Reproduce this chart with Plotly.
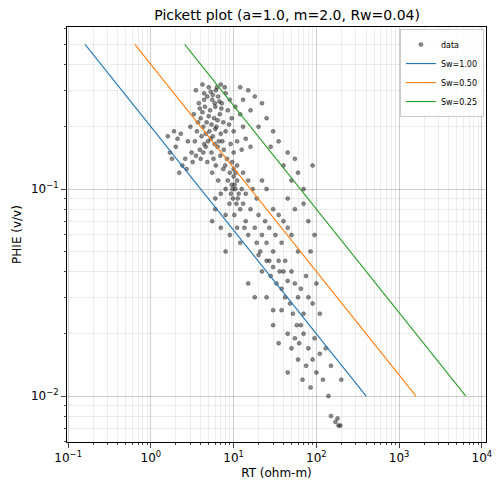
import plotly.graph_objects as go

# Pickett plot: RT vs PHIE, Archie lines for a=1, m=2, Rw=0.04
pts = [
    (3.5, 0.30), (4.2, 0.32), (5.0, 0.31), (6.1, 0.30), (7.0, 0.32), (4.8, 0.28), (5.5, 0.27), (6.5, 0.28),
    (8.0, 0.29), (3.8, 0.26), (4.5, 0.25), (5.2, 0.24), (6.0, 0.25), (7.2, 0.26), (9.0, 0.27), (3.3, 0.23),
    (4.0, 0.22), (4.7, 0.21), (5.8, 0.22), (6.8, 0.23), (8.5, 0.24), (10.5, 0.25), (3.0, 0.20), (3.6, 0.19),
    (4.3, 0.20), (5.1, 0.19), (6.2, 0.20), (7.5, 0.21), (9.5, 0.22), (12, 0.23), (2.8, 0.17), (3.4, 0.17),
    (4.1, 0.18), (4.9, 0.17), (5.6, 0.18), (6.6, 0.17), (8.0, 0.19), (10, 0.19), (13, 0.20), (3.1, 0.15),
    (3.9, 0.155), (4.6, 0.16), (5.4, 0.15), (6.4, 0.16), (7.6, 0.155), (9.2, 0.165), (11, 0.17), (14, 0.175),
    (2.6, 0.14), (3.2, 0.135), (4.0, 0.14), (4.8, 0.135), (5.7, 0.14), (6.9, 0.145), (8.3, 0.14), (10, 0.15),
    (12.5, 0.155), (16, 0.16), (4.4, 0.29), (5.3, 0.295), (6.3, 0.31), (7.8, 0.31), (5.9, 0.26), (7.1, 0.245),
    (4.2, 0.235), (5.0, 0.225), (6.4, 0.215), (3.7, 0.21), (4.6, 0.185), (5.3, 0.175), (7.0, 0.185), (8.8, 0.205),
    (1.6, 0.18), (1.9, 0.19), (2.1, 0.175), (2.3, 0.185), (1.7, 0.15), (2.0, 0.16), (2.4, 0.13), (2.2, 0.12),
    (2.7, 0.125), (1.8, 0.14), (12, 0.31), (15, 0.30), (18, 0.28), (13, 0.27), (22, 0.26), (16, 0.24),
    (25, 0.22), (20, 0.20), (30, 0.19), (28, 0.16), (35, 0.17), (45, 0.15), (40, 0.13), (55, 0.14),
    (60, 0.12), (90, 0.13), (70, 0.10), (50, 0.11), (9, 0.12), (10, 0.115), (11, 0.11), (9.5, 0.105),
    (10.5, 0.10), (11.5, 0.095), (9.8, 0.09), (10.8, 0.085), (12, 0.08), (10, 0.125), (11, 0.13), (9.3, 0.095),
    (12.5, 0.10), (8.5, 0.11), (10.2, 0.075), (5.5, 0.12), (6.5, 0.11), (7.5, 0.125), (8, 0.10), (7, 0.095),
    (6, 0.09), (13, 0.12), (15, 0.11), (17, 0.10), (14, 0.095), (19, 0.09), (22, 0.11), (25, 0.10),
    (6, 0.08), (7, 0.065), (8, 0.075), (5.5, 0.07), (13, 0.085), (16, 0.08), (20, 0.075), (24, 0.07),
    (30, 0.08), (35, 0.075), (14, 0.07), (18, 0.065), (22, 0.06), (27, 0.065), (32, 0.06), (40, 0.07),
    (45, 0.065), (15, 0.06), (19, 0.055), (25, 0.055), (30, 0.05), (38, 0.055), (50, 0.06), (60, 0.05),
    (12, 0.055), (11, 0.065), (9, 0.06), (8, 0.05), (45, 0.09), (55, 0.08), (70, 0.085), (80, 0.07),
    (95, 0.06), (85, 0.05), (20, 0.048), (25, 0.045), (30, 0.042), (35, 0.045), (40, 0.04), (28, 0.038),
    (22, 0.04), (33, 0.035), (38, 0.033), (45, 0.036), (50, 0.04), (55, 0.035), (42, 0.03), (48, 0.028),
    (60, 0.03), (65, 0.033), (75, 0.038), (80, 0.03), (90, 0.028), (52, 0.025), (58, 0.022), (70, 0.025),
    (100, 0.035), (110, 0.025), (18, 0.03), (15, 0.035), (25, 0.03), (30, 0.026), (45, 0.02), (55, 0.019),
    (62, 0.018), (70, 0.02), (80, 0.017), (95, 0.019), (60, 0.015), (75, 0.014), (90, 0.015), (110, 0.016),
    (130, 0.017), (100, 0.013), (120, 0.012), (150, 0.014), (45, 0.013), (85, 0.011), (140, 0.01), (30, 0.022),
    (35, 0.018), (200, 0.012), (150, 0.008), (170, 0.0075), (185, 0.0072), (195, 0.0072), (180, 0.0078),
    # extra density in the core
    (4.4, 0.27), (5.6, 0.285), (6.7, 0.265), (3.9, 0.245), (5.4, 0.205), (6.0, 0.195), (4.4, 0.165),
    (5.9, 0.165), (7.3, 0.17), (3.5, 0.145), (4.3, 0.15), (6.1, 0.13), (7.9, 0.13), (9.6, 0.135),
    (10.3, 0.105), (9.7, 0.1), (11.2, 0.09), (10.6, 0.12), (8.9, 0.085), (13.5, 0.065), (21, 0.05),
    (27, 0.045), (36, 0.04), (42, 0.045), (65, 0.022), (50, 0.017), (38, 0.026), (68, 0.012),
]
rt = [p[0] for p in pts]
phie = [p[1] for p in pts]

# Sw lines, endpoints at PHIE = 0.5 and 0.01
line_phie = [0.5, 0.01]
sw_labels = ["Sw=1.00", "Sw=0.50", "Sw=0.25"]
sw_rt = [[0.16, 400], [0.64, 1600], [2.56, 6400]]
sw_colors = ["#1f77b4", "#ff7f0e", "#2ca02c"]

fig = go.Figure()
fig.add_trace(go.Scatter(
    x=rt, y=phie, mode="markers", name="data",
    marker=dict(size=4, color="rgba(0,0,0,0.45)", line=dict(width=0.6, color="rgba(30,30,30,0.6)")),
))
for lab, xs, c in zip(sw_labels, sw_rt, sw_colors):
    fig.add_trace(go.Scatter(x=xs, y=line_phie, mode="lines", name=lab, line=dict(color=c, width=1.1)))

sup = lambda e: f"10<sup>{e}</sup>".replace("-", "−")
axis = dict(
    type="log", showline=True, linecolor="black", mirror=True, ticks="outside",
    showgrid=True, gridcolor="rgba(0,0,0,0.13)", gridwidth=0.8, zeroline=False,
    minor=dict(dtick="D1", showgrid=True, gridcolor="rgba(0,0,0,0.07)", ticks="outside", ticklen=2),
    tickfont=dict(size=12, color="black"), automargin=False,
)
fig.update_xaxes(**axis, range=[-1.014, 4.05], tickvals=[0.1, 1, 10, 100, 1000, 10000],
                 ticktext=[sup(e) for e in (-1, 0, 1, 2, 3, 4)],
                 title=dict(text="RT (ohm-m)", font=dict(size=12), standoff=4))
fig.update_yaxes(**axis, range=[-2.222, -0.217], tickvals=[0.01, 0.1],
                 ticktext=[sup(-2), sup(-1)],
                 title=dict(text="PHIE (v/v)", font=dict(size=12), standoff=6))
fig.update_layout(
    width=494, height=487, template="plotly_white",
    font=dict(family="DejaVu Sans", color="black"),
    title=dict(text="Pickett plot (a=1.0, m=2.0, Rw=0.04)", x=0.565, xanchor="center",
               y=0.985, yanchor="middle", font=dict(size=14)),
    margin=dict(l=59, r=16, t=19, b=53),
    legend=dict(x=0.995, y=0.995, xanchor="right", yanchor="top", font=dict(size=8),
                bordercolor="#cccccc", borderwidth=1, bgcolor="rgba(255,255,255,0.8)"),
    plot_bgcolor="white",
)
fig.write_html("out.html")
